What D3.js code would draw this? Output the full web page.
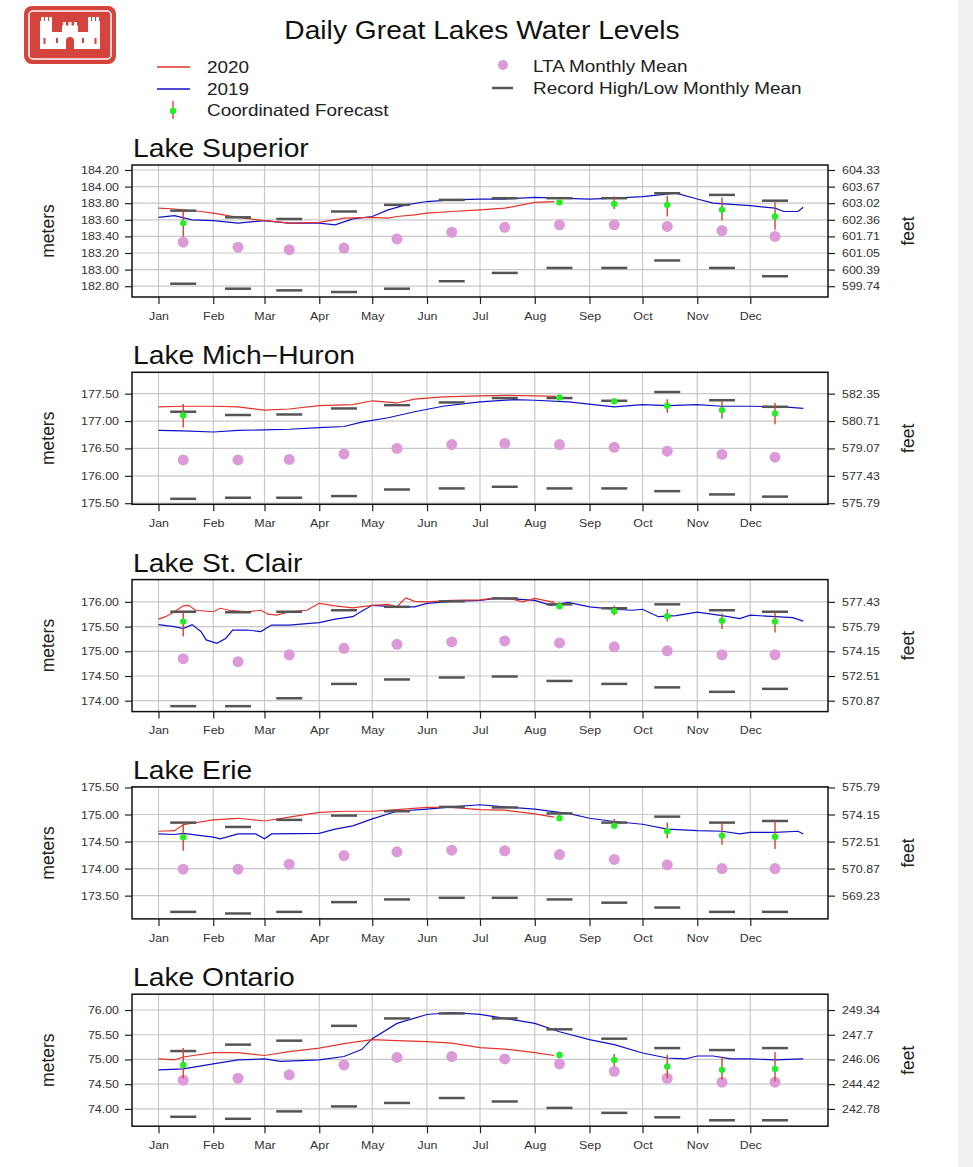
<!DOCTYPE html>
<html>
<head>
<meta charset="utf-8">
<script src="https://cdn.jsdelivr.net/npm/d3@7"></script>
<style>
  body { margin: 0; background: #fff; }
  svg { display: block; font-family: "Liberation Sans", Arial, sans-serif; }
</style>
</head>
<body>
<div id="chart"></div>
<script>
// lake names and month labels
const lakes = ["Lake Superior", "Lake Mich\u2212Huron", "Lake St. Clair", "Lake Erie", "Lake Ontario"];
const monthLabels = ["Jan", "Feb", "Mar", "Apr", "May", "Jun", "Jul", "Aug", "Sep", "Oct", "Nov", "Dec"];

// left axis ticks (meters) and visible y ranges
const superiorTicks = [182.8, 183.0, 183.2, 183.4, 183.6, 183.8, 184.0, 184.2];
const mhTicks = [175.5, 176.0, 176.5, 177.0, 177.5];
const scTicks = [174.0, 174.5, 175.0, 175.5, 176.0];
const erieTicks = [173.5, 174.0, 174.5, 175.0, 175.5];
const ontTicks = [74.0, 74.5, 75.0, 75.5, 76.0];
const superiorRange = [182.67, 184.26];
const mhRange = [175.48, 177.89];
const scRange = [173.78, 176.45];
const erieRange = [173.07, 175.51];
const ontRange = [73.65, 76.32];

// daily levels [month-day, meters]
const superior2020 = [["01-01",183.74],["01-10",183.73],["01-15",183.72],["01-25",183.70],["02-01",183.68],["02-15",183.63],["03-01",183.59],["03-15",183.56],["04-01",183.57],["04-15",183.62],["05-01",183.63],["05-10",183.62],["05-15",183.64],["05-25",183.66],["06-01",183.68],["06-15",183.70],["07-01",183.72],["07-15",183.74],["08-01",183.81],["08-12",183.82]];
const superior2019 = [["01-01",183.63],["01-10",183.65],["01-20",183.60],["02-01",183.59],["02-15",183.56],["03-01",183.59],["03-15",183.56],["04-01",183.56],["04-10",183.54],["04-20",183.61],["05-01",183.64],["05-10",183.72],["05-20",183.78],["06-01",183.82],["06-15",183.84],["07-01",183.85],["07-15",183.85],["08-01",183.87],["08-15",183.86],["09-01",183.85],["09-15",183.86],["10-01",183.88],["10-20",183.92],["11-01",183.85],["11-10",183.80],["12-01",183.77],["12-15",183.74],["12-20",183.70],["12-28",183.70],["12-31",183.75]];
const mh2020 = [["01-01",177.26],["01-15",177.27],["02-01",177.27],["02-15",177.26],["03-01",177.20],["03-15",177.22],["04-01",177.28],["04-20",177.30],["05-01",177.37],["05-15",177.33],["05-25",177.40],["06-10",177.44],["07-01",177.46],["07-15",177.47],["08-01",177.46],["08-13",177.45]];
const mh2019 = [["01-01",176.83],["01-15",176.82],["02-01",176.80],["02-15",176.83],["03-01",176.84],["03-15",176.85],["04-01",176.88],["04-15",176.90],["04-25",176.98],["05-10",177.06],["05-25",177.17],["06-10",177.27],["07-01",177.35],["07-20",177.39],["08-01",177.38],["08-20",177.35],["09-15",177.26],["10-01",177.30],["10-15",177.28],["11-01",177.30],["11-15",177.27],["12-01",177.27],["12-20",177.26],["12-31",177.23]];
const sc2020 = [["01-01",175.65],["01-05",175.70],["01-10",175.80],["01-15",175.92],["01-18",175.93],["01-22",175.83],["02-01",175.80],["02-05",175.87],["02-10",175.83],["02-20",175.80],["02-28",175.83],["03-03",175.75],["03-08",175.73],["03-15",175.80],["03-25",175.83],["04-01",175.97],["04-10",175.92],["04-20",175.88],["05-01",175.93],["05-10",175.95],["05-15",175.90],["05-20",176.08],["05-25",176.01],["06-01",176.00],["06-15",176.03],["07-01",176.04],["07-10",176.08],["07-20",176.05],["07-25",176.00],["08-01",176.07],["08-12",175.99]];
const sc2019 = [["01-01",175.54],["01-10",175.50],["01-15",175.46],["01-20",175.54],["01-25",175.40],["01-28",175.23],["02-03",175.16],["02-08",175.26],["02-12",175.43],["02-20",175.43],["02-28",175.40],["03-05",175.53],["03-15",175.53],["03-25",175.56],["04-01",175.58],["04-10",175.65],["04-20",175.70],["04-25",175.81],["05-01",175.93],["05-15",175.90],["05-25",175.90],["06-01",175.97],["06-15",176.01],["07-01",176.03],["07-10",176.07],["07-20",176.06],["08-01",176.03],["08-10",175.93],["08-20",175.99],["09-01",175.90],["09-15",175.85],["09-25",175.83],["10-01",175.85],["10-10",175.70],["10-20",175.72],["11-01",175.79],["11-15",175.72],["11-25",175.66],["12-01",175.73],["12-15",175.70],["12-25",175.68],["12-31",175.61]];
const erie2020 = [["01-01",174.69],["01-10",174.70],["01-15",174.81],["02-01",174.90],["02-15",174.93],["03-01",174.88],["03-15",174.95],["04-01",175.04],["04-15",175.06],["05-01",175.06],["05-15",175.09],["06-01",175.13],["06-15",175.13],["07-01",175.09],["07-15",175.08],["08-01",175.01],["08-12",174.95]];
const erie2019 = [["01-01",174.64],["01-10",174.63],["01-15",174.65],["02-01",174.58],["02-05",174.55],["02-15",174.64],["02-25",174.64],["03-01",174.55],["03-05",174.64],["04-01",174.65],["04-10",174.73],["04-20",174.79],["05-01",174.92],["05-15",175.06],["06-01",175.10],["06-15",175.14],["07-01",175.18],["07-15",175.14],["08-01",175.10],["08-15",175.04],["08-20",175.02],["09-01",174.93],["09-15",174.87],["10-01",174.82],["10-15",174.73],["11-01",174.70],["11-15",174.69],["11-25",174.64],["12-01",174.67],["12-15",174.67],["12-28",174.69],["12-31",174.64]];
const ont2020 = [["01-01",75.01],["01-10",74.99],["01-15",75.05],["02-01",75.14],["02-15",75.14],["03-01",75.08],["03-15",75.16],["04-01",75.23],["04-15",75.32],["05-01",75.40],["05-15",75.38],["06-01",75.36],["06-15",75.33],["07-01",75.24],["07-15",75.21],["08-01",75.14],["08-12",75.08]];
const ont2019 = [["01-01",74.79],["01-15",74.81],["02-01",74.91],["02-15",74.99],["03-01",75.01],["03-10",74.96],["04-01",74.99],["04-15",75.06],["04-25",75.20],["05-01",75.42],["05-15",75.73],["06-01",75.91],["06-15",75.95],["07-01",75.91],["07-15",75.83],["08-01",75.73],["08-15",75.56],["09-01",75.40],["09-15",75.30],["10-01",75.13],["10-15",75.03],["10-25",75.01],["11-01",75.07],["11-10",75.07],["11-20",75.01],["12-01",75.01],["12-15",74.99],["12-31",75.01]];

// long term average, record high and record low monthly means (Jan..Dec)
const superiorLTA = [183.33,183.27,183.24,183.26,183.37,183.45,183.51,183.54,183.54,183.52,183.47,183.40];
const superiorHigh = [183.71,183.63,183.61,183.70,183.78,183.84,183.86,183.86,183.86,183.92,183.90,183.83];
const superiorLow = [182.83,182.77,182.75,182.73,182.77,182.86,182.96,183.02,183.02,183.11,183.02,182.92];
const mhLTA = [176.29,176.29,176.30,176.40,176.50,176.57,176.59,176.57,176.52,176.45,176.39,176.34];
const mhHigh = [177.17,177.11,177.12,177.23,177.29,177.34,177.42,177.42,177.37,177.53,177.38,177.26];
const mhLow = [175.58,175.60,175.60,175.63,175.75,175.77,175.80,175.77,175.77,175.72,175.66,175.62];
const scLTA = [174.85,174.79,174.93,175.06,175.14,175.19,175.21,175.17,175.09,175.01,174.93,174.93];
const scHigh = [175.80,175.79,175.80,175.83,175.90,176.01,176.07,175.95,175.87,175.95,175.83,175.80];
const scLow = [173.89,173.89,174.05,174.34,174.43,174.47,174.49,174.40,174.34,174.27,174.18,174.24];
const erieLTA = [173.99,173.99,174.08,174.24,174.31,174.34,174.33,174.26,174.17,174.07,174.00,174.00];
const erieHigh = [174.85,174.77,174.90,174.98,175.06,175.14,175.13,175.02,174.85,174.96,174.85,174.88];
const erieLow = [173.20,173.17,173.20,173.38,173.43,173.46,173.46,173.43,173.37,173.28,173.20,173.20];
const ontLTA = [74.58,74.62,74.69,74.89,75.04,75.06,75.01,74.91,74.76,74.62,74.54,74.54];
const ontHigh = [75.17,75.30,75.38,75.68,75.83,75.93,75.83,75.61,75.42,75.23,75.19,75.23];
const ontLow = [73.84,73.80,73.95,74.05,74.12,74.22,74.15,74.02,73.92,73.83,73.77,73.77];

// coordinated forecast [month, value, low, high]
const superiorForecast = [[1,183.56,183.40,183.72],[8,183.81,183.78,183.83],[9,183.79,183.73,183.88],[10,183.78,183.64,183.89],[11,183.72,183.59,183.87],[12,183.64,183.48,183.81]];
const mhForecast = [[1,177.10,176.88,177.31],[8,177.43,177.40,177.46],[9,177.36,177.32,177.42],[10,177.28,177.15,177.40],[11,177.20,177.04,177.37],[12,177.14,176.94,177.33]];
const scForecast = [[1,175.60,175.30,175.80],[8,175.91,175.86,175.99],[9,175.81,175.73,175.92],[10,175.71,175.60,175.85],[11,175.62,175.45,175.77],[12,175.60,175.38,175.80]];
const erieForecast = [[1,174.58,174.33,174.85],[8,174.93,174.90,174.98],[9,174.79,174.75,174.92],[10,174.69,174.56,174.85],[11,174.61,174.44,174.85],[12,174.59,174.36,174.88]];
const ontForecast = [[1,74.89,74.62,75.23],[8,75.09,75.04,75.16],[9,74.99,74.87,75.11],[10,74.86,74.62,75.09],[11,74.79,74.59,75.06],[12,74.81,74.56,75.15]];

const panels = [
  {ticks: superiorTicks, range: superiorRange, y2020: superior2020, y2019: superior2019, lta: superiorLTA, high: superiorHigh, low: superiorLow, fc: superiorForecast},
  {ticks: mhTicks, range: mhRange, y2020: mh2020, y2019: mh2019, lta: mhLTA, high: mhHigh, low: mhLow, fc: mhForecast},
  {ticks: scTicks, range: scRange, y2020: sc2020, y2019: sc2019, lta: scLTA, high: scHigh, low: scLow, fc: scForecast},
  {ticks: erieTicks, range: erieRange, y2020: erie2020, y2019: erie2019, lta: erieLTA, high: erieHigh, low: erieLow, fc: erieForecast},
  {ticks: ontTicks, range: ontRange, y2020: ont2020, y2019: ont2019, lta: ontLTA, high: ontHigh, low: ontLow, fc: ontForecast}
];

const width = 973;
const height = 1167;
const left = 132, right = 828;
const panelTop = 165, panelStep = 207.3, panelH = 132;
const red = "#e3342b", blue = "#1010c8", green = "#22ee22", pink = "#dc9ad8", recGray = "#555";
const sx = 1.13; // the source image is a bit wider than tall, text looks stretched

const day = d3.timeParse("%Y-%m-%d");
const parse = s => day("2020-" + s);
const midMonth = m => new Date(2020, m - 1, 15);
const toFeet = m => String(+(m * 3.28084).toFixed(2));

// move x/y into a transform so the text can be widened around its anchor
function stretch(sel, k) {
  sel.each(function () {
    const t = d3.select(this);
    const tx = +t.attr("x") || 0, ty = +t.attr("y") || 0;
    t.attr("x", 0).attr("y", 0).attr("transform", `translate(${tx},${ty}) scale(${k},1)`);
  });
}

const svg = d3.select("#chart")
  .append("svg")
  .attr("width", width)
  .attr("height", height);

// grey strip on the right edge of the screenshot
svg.append("rect").attr("x", 958).attr("y", 0).attr("width", 15).attr("height", height).attr("fill", "#f1f1f1");

// logo
const logo = svg.append("g");
logo.append("rect").attr("x", 24).attr("y", 6).attr("width", 92).attr("height", 58).attr("rx", 8).attr("fill", "#d4433c");
logo.append("rect").attr("x", 29).attr("y", 11).attr("width", 82).attr("height", 48).attr("rx", 4)
  .attr("fill", "none").attr("stroke", "#fff").attr("stroke-width", 1.5);
logo.append("path").attr("fill", "#fff").attr("d",
  "M40,49 V21 H41 V17 H44 V21 H45 V17 H48 V21 H49 V17 H52 V32 H62 V25.5 H63 V22 H66 V25.5 H68.5 V22 H71.5 V25.5 H74 V22 H77 V25.5 H78 V32 H88 V17 H91 V21 H92 V17 H95 V21 H96 V17 H99 V21 H100 V49 Z");
logo.append("path").attr("fill", "#d4433c").attr("d", "M66,49 V41 A4,4 0 0 1 74,41 V49 Z");
[44.5, 95.5].forEach(cx => logo.append("rect").attr("x", cx - 1).attr("y", 38).attr("width", 2).attr("height", 6).attr("fill", "#d4433c"));
[57, 83].forEach(cx => logo.append("rect").attr("x", cx - 1).attr("y", 38).attr("width", 2).attr("height", 5).attr("fill", "#d4433c"));

// title
svg.append("text").attr("x", 482).attr("y", 39).attr("text-anchor", "middle")
  .attr("font-size", 26).attr("fill", "#111").text("Daily Great Lakes Water Levels")
  .call(stretch, 1.085);

// legend
const leg = svg.append("g").attr("font-size", 16.5).attr("fill", "#222");
leg.append("line").attr("x1", 157).attr("x2", 190).attr("y1", 67).attr("y2", 67).attr("stroke", red).attr("stroke-width", 1.3);
leg.append("text").attr("x", 207).attr("y", 73).text("2020");
leg.append("line").attr("x1", 157).attr("x2", 190).attr("y1", 89).attr("y2", 89).attr("stroke", blue).attr("stroke-width", 1.3);
leg.append("text").attr("x", 207).attr("y", 95).text("2019");
leg.append("line").attr("x1", 173).attr("x2", 173).attr("y1", 101).attr("y2", 119).attr("stroke", red).attr("stroke-width", 1.3);
leg.append("circle").attr("cx", 173).attr("cy", 111).attr("r", 3.2).attr("fill", green);
leg.append("text").attr("x", 207).attr("y", 116).text("Coordinated Forecast");
leg.append("circle").attr("cx", 503).attr("cy", 65).attr("r", 5).attr("fill", pink);
leg.append("text").attr("x", 533).attr("y", 72).text("LTA Monthly Mean");
leg.append("line").attr("x1", 492).attr("x2", 513).attr("y1", 88).attr("y2", 88).attr("stroke", recGray).attr("stroke-width", 2.5);
leg.append("text").attr("x", 533).attr("y", 94).text("Record High/Low Monthly Mean");
leg.selectAll("text").call(stretch, 1.145);

const x = d3.scaleTime()
  .domain([new Date(2019, 11, 17), new Date(2021, 0, 14)])
  .range([left, right]);
const monthStarts = monthLabels.map((m, i) => new Date(2020, i, 1));

panels.forEach((p, i) => {
  const top = panelTop + i * panelStep;
  const bottom = top + panelH;
  const y = d3.scaleLinear().domain(p.range).range([bottom, top]);
  const g = svg.append("g");

  g.append("text").attr("x", left + 1).attr("y", top - 8)
    .attr("font-size", 25).attr("fill", "#111").text(lakes[i])
    .call(stretch, sx);

  // grid
  g.selectAll("line.vg").data(monthStarts).enter().append("line")
    .attr("x1", d => x(d)).attr("x2", d => x(d)).attr("y1", top).attr("y2", bottom)
    .attr("stroke", "#c8c8c8").attr("stroke-width", 1.2);
  g.selectAll("line.hg").data(p.ticks).enter().append("line")
    .attr("x1", left).attr("x2", right).attr("y1", d => y(d)).attr("y2", d => y(d))
    .attr("stroke", "#c8c8c8").attr("stroke-width", 1.2);

  // axes
  const xAxis = d3.axisBottom(x).tickValues(monthStarts).tickFormat((d, k) => monthLabels[k]).tickSize(7).tickPadding(8);
  const ax = g.append("g").attr("transform", `translate(0,${bottom})`).call(xAxis);
  const yLeft = d3.axisLeft(y).tickValues(p.ticks).tickFormat(d3.format(".2f")).tickSize(7).tickPadding(6);
  const al = g.append("g").attr("transform", `translate(${left},0)`).call(yLeft);
  const yRight = d3.axisRight(y).tickValues(p.ticks).tickFormat(toFeet).tickSize(7).tickPadding(7);
  const ar = g.append("g").attr("transform", `translate(${right},0)`).call(yRight);
  [ax, al, ar].forEach(a => {
    a.select(".domain").remove();
    a.selectAll("line").attr("stroke", "#222").attr("stroke-width", 1.2);
    a.selectAll("text").attr("font-size", 11).attr("fill", "#333")
      .attr("font-family", "\"Liberation Sans\", Arial, sans-serif")
      .call(stretch, sx);
  });

  g.append("text").attr("transform", `translate(54,${(top + bottom) / 2}) rotate(-90)`)
    .attr("text-anchor", "middle").attr("font-size", 17.5).attr("fill", "#222").text("meters");
  g.append("text").attr("transform", `translate(914,${(top + bottom) / 2}) rotate(-90)`)
    .attr("text-anchor", "middle").attr("font-size", 17.5).attr("fill", "#222").text("feet");

  // LTA monthly means
  g.selectAll("circle.lta").data(p.lta).enter().append("circle")
    .attr("cx", (d, k) => x(midMonth(k + 1))).attr("cy", d => y(d)).attr("r", 5.5).attr("fill", pink);

  // daily lines
  const line = d3.line().x(d => x(parse(d[0]))).y(d => y(d[1]));
  g.append("path").datum(p.y2019).attr("d", line).attr("fill", "none").attr("stroke", blue).attr("stroke-width", 1.2);
  g.append("path").datum(p.y2020).attr("d", line).attr("fill", "none").attr("stroke", red).attr("stroke-width", 1.2);

  // record high/low monthly means
  [p.high, p.low].forEach(arr => {
    g.selectAll(null).data(arr).enter().append("line")
      .attr("x1", (d, k) => x(midMonth(k + 1)) - 13).attr("x2", (d, k) => x(midMonth(k + 1)) + 13)
      .attr("y1", d => y(d)).attr("y2", d => y(d))
      .attr("stroke", recGray).attr("stroke-width", 2.5);
  });

  // coordinated forecast
  g.selectAll("line.fc").data(p.fc).enter().append("line")
    .attr("x1", d => x(midMonth(d[0]))).attr("x2", d => x(midMonth(d[0])))
    .attr("y1", d => y(d[2])).attr("y2", d => y(d[3]))
    .attr("stroke", "#d2442a").attr("stroke-width", 1.4);
  g.selectAll("circle.fc").data(p.fc).enter().append("circle")
    .attr("cx", d => x(midMonth(d[0]))).attr("cy", d => y(d[1])).attr("r", 3.2).attr("fill", green);

  // frame
  g.append("rect").attr("x", left).attr("y", top).attr("width", right - left).attr("height", panelH)
    .attr("fill", "none").attr("stroke", "#111").attr("stroke-width", 1.5);
});
</script>
</body>
</html>
